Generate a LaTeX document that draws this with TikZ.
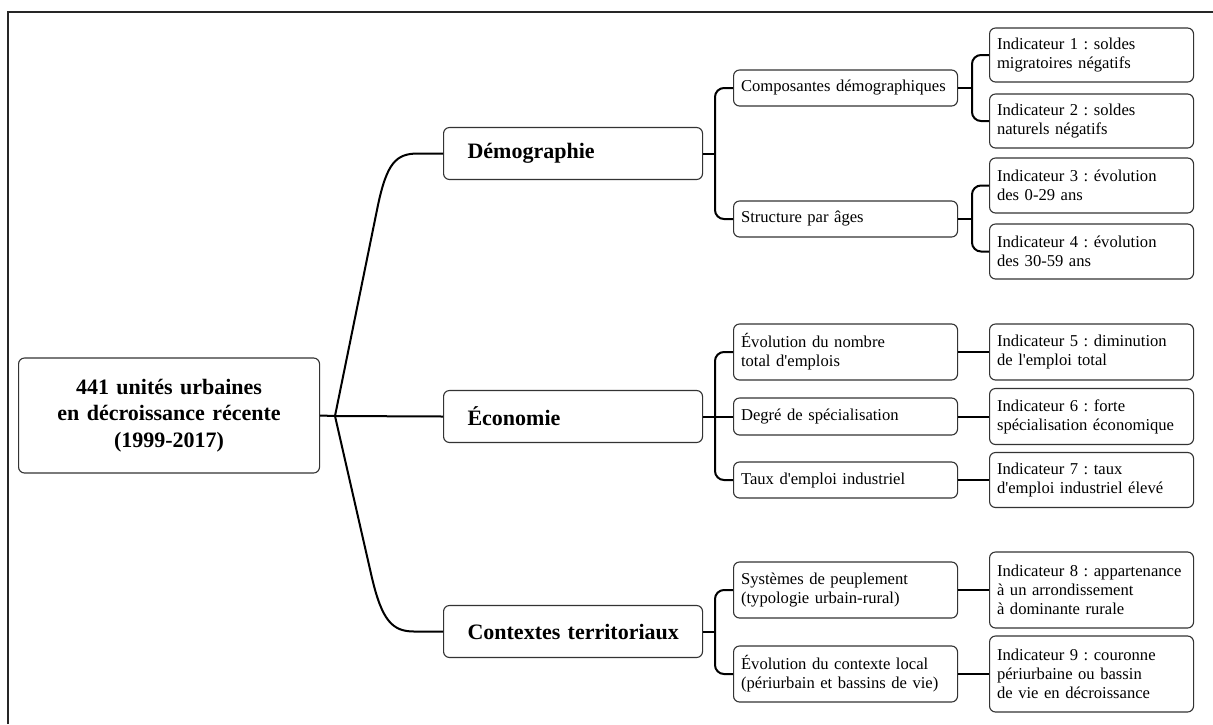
\documentclass[tikz,border=0pt]{standalone}
\usepackage{fontspec}
\setmainfont{Liberation Serif}[Ligatures=TeXOff]
\frenchspacing
\hyphenpenalty=10000
\exhyphenpenalty=10000
\begin{document}
\begin{tikzpicture}[x=1pt,y=-1pt,
  box/.style={draw=black!80, line width=1.1pt, rounded corners=6pt, fill=white, anchor=west, align=left, inner ysep=0pt},
  rootbox/.style={box, align=center, inner xsep=0pt, font=\fontsize{22}{26.5}\selectfont\bfseries},
  cat/.style={box, inner xsep=0pt, text width=259pt, minimum width=259pt, minimum height=52pt, font=\fontsize{22}{26}\selectfont\bfseries, execute at begin node={\hspace*{24pt}}},
  sub/.style={box, inner xsep=7.5pt, text width=209pt, minimum width=224pt, font=\fontsize{16.6}{19}\selectfont},
  ind/.style={box, inner xsep=7.5pt, text width=189pt, minimum width=204pt, font=\fontsize{16.6}{19}\selectfont},
  conn/.style={draw=black, line width=2pt}]
\useasboundingbox (0,0) rectangle (1213,724);
\fill[white] (0,0) rectangle (1213,724);
\draw[line width=2pt, black!85] (8,724) -- (8,12) -- (1213,12);

% root
\node[rootbox, text width=301pt, minimum width=301pt, minimum height=115pt] (root) at (18,415.5) {441 unités urbaines\\en décroissance récente\\(1999-2017)};

% categories
\node[cat] (demo) at (443,153.5) {Démographie};
\node[cat] (eco) at (443,416.5) {Économie};
\node[cat] (ctx) at (443,631.5) {Contextes territoriaux};

% sub-categories
\node[sub, minimum height=36pt] (comp) at (733,88) {Composantes démographiques};
\node[sub, minimum height=36pt] (struct) at (733,219) {Structure par âges};
\node[sub, minimum height=56pt] (evol) at (733,352) {Évolution du nombre\\total d'emplois};
\node[sub, minimum height=37pt] (degre) at (733,416.5) {Degré de spécialisation};
\node[sub, minimum height=36pt] (taux) at (733,480) {Taux d'emploi industriel};
\node[sub, minimum height=56pt] (syst) at (733,590) {Systèmes de peuplement\\(typologie urbain-rural)};
\node[sub, minimum height=56pt] (evctx) at (733,674) {Évolution du contexte local\\(périurbain et bassins de vie)};

% indicators
\node[ind, minimum height=54pt] (i1) at (989,55) {Indicateur 1 : soldes\\migratoires négatifs};
\node[ind, minimum height=54pt] (i2) at (989,121) {Indicateur 2 : soldes\\naturels négatifs};
\node[ind, minimum height=55pt] (i3) at (989,185.5) {Indicateur 3 : évolution\\des 0-29 ans};
\node[ind, minimum height=55pt] (i4) at (989,251.5) {Indicateur 4 : évolution\\des 30-59 ans};
\node[ind, minimum height=56pt] (i5) at (989,352) {Indicateur 5 : diminution\\de l'emploi total};
\node[ind, minimum height=56pt] (i6) at (989,416.5) {Indicateur 6 : forte\\spécialisation économique};
\node[ind, minimum height=55pt] (i7) at (989,480) {Indicateur 7 : taux\\d'emploi industriel élevé};
\node[ind, minimum height=76pt] (i8) at (989,590) {Indicateur 8 : appartenance\\à un arrondissement\\à dominante rurale};
\node[ind, minimum height=76pt] (i9) at (989,674) {Indicateur 9 : couronne\\périurbaine ou bassin\\de vie en décroissance};

% junction coordinates
\coordinate (jr) at (335,416);
\coordinate (jd) at (715,153.5);
\coordinate (je) at (715,416.5);
\coordinate (jc) at (715,631.5);
\coordinate (jcomp) at (972,88);
\coordinate (jstruct) at (972,219);

% root connectors
\draw[conn] (root.east) -- (jr) -- (eco.west);
\draw[conn] (jr) -- (378,205) .. controls (387,163) and (396,153.5) .. (418,153.5) -- (demo.west);
\draw[conn] (jr) -- (372,578) .. controls (382,620) and (392,631.5) .. (414,631.5) -- (ctx.west);

% category connectors
\draw[conn] (demo.east) -- (jd);
\draw[conn, rounded corners=9pt] (comp.west) -| (jd) |- (struct.west);
\draw[conn] (eco.east) -- (degre.west);
\draw[conn, rounded corners=9pt] (evol.west) -| (je) |- (taux.west);
\draw[conn] (ctx.east) -- (jc);
\draw[conn, rounded corners=9pt] (syst.west) -| (jc) |- (evctx.west);

% sub connectors
\draw[conn] (comp.east) -- (jcomp);
\draw[conn, rounded corners=9pt] (i1.west) -| (jcomp) |- (i2.west);
\draw[conn] (struct.east) -- (jstruct);
\draw[conn, rounded corners=9pt] (i3.west) -| (jstruct) |- (i4.west);
\draw[conn] (evol.east) -- (i5.west);
\draw[conn] (degre.east) -- (i6.west);
\draw[conn] (taux.east) -- (i7.west);
\draw[conn] (syst.east) -- (i8.west);
\draw[conn] (evctx.east) -- (i9.west);
\end{tikzpicture}
\end{document}
